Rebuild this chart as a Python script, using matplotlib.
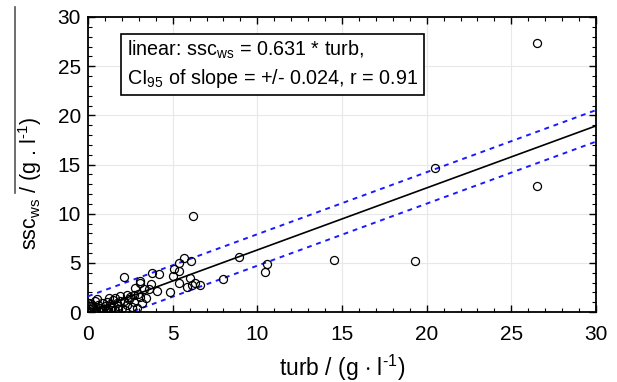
import matplotlib
matplotlib.use("Agg")
import matplotlib.pyplot as plt
import numpy as np
from matplotlib.lines import Line2D
from matplotlib.ticker import MultipleLocator

plt.rcParams['font.family'] = ['Liberation Sans', 'DejaVu Sans']
plt.rcParams['mathtext.fontset'] = 'custom'
plt.rcParams['mathtext.rm'] = 'Liberation Sans'
plt.rcParams['mathtext.it'] = 'Liberation Sans:italic'

# measured points (turb, ssc_ws), g/l
turb = [26.5, 26.5, 20.5, 19.3, 14.5, 10.6, 10.45, 8.9, 8.0, 6.2,
        5.65, 6.1, 5.4, 5.05, 5.35, 5.0, 6.0, 5.4, 6.15, 5.85,
        6.6, 6.3, 4.85, 4.2, 3.8, 2.1, 3.05, 3.1, 3.75, 2.8,
        3.6, 4.1, 2.95, 3.45, 2.3, 1.9, 1.6, 2.1, 2.7, 3.3,
        2.5, 3.05, 2.7,
        0.1, 0.2, 0.3, 0.4, 0.5, 0.6, 0.7, 0.8, 0.9, 1.0,
        1.1, 1.2, 1.3, 1.4, 1.5, 1.6, 1.7, 1.8, 1.9, 2.0,
        2.2, 2.4, 0.15, 0.35, 0.55, 0.75, 1.05, 1.25, 0.05, 2.6,
        0.25, 0.45, 0.85, 1.15, 1.35, 1.75, 2.3, 2.9, 3.2]
ssc_ws = [27.4, 12.8, 14.6, 5.2, 5.25, 4.9, 4.1, 5.6, 3.35, 9.8,
          5.5, 5.15, 5.0, 4.35, 4.2, 3.65, 3.45, 3.0, 2.75, 2.5,
          2.7, 2.9, 2.0, 3.85, 4.0, 3.55, 3.15, 3.0, 2.8, 2.4,
          2.3, 2.15, 1.8, 1.4, 1.75, 1.65, 1.4, 1.15, 1.05, 2.3,
          1.55, 1.55, 1.75,
          0.3, 0.8, 0.5, 1.1, 0.2, 0.7, 0.4, 0.9, 0.1, 0.6,
          1.0, 0.3, 0.8, 0.5, 1.2, 0.2, 0.9, 0.6, 1.1, 0.4,
          0.2, 1.3, 0.05, 0.15, 1.3, 0.0, 0.35, 1.4, 0.9, 0.5,
          0.6, 0.1, 0.3, 0.15, 0.2, 0.3, 0.7, 0.4, 0.9]

slope = 0.631
band = 1.6  # half width of the dashed band, g/l
fit_x = [0, 30]

fig = plt.figure(figsize=(6.17, 3.82), dpi=100)
ax = fig.add_axes([0.1426, 0.1832, 0.966 - 0.1426, 0.9555 - 0.1832])

fx = np.array(fit_x, dtype=float)
ax.plot(fx, slope * fx, color='black', lw=1.2, zorder=3)
ax.plot(fx, slope * fx + band, color='#1a1aff', lw=1.4, ls=(0, (2.5, 2.5)), zorder=3)
ax.plot(fx, slope * fx - band, color='#1a1aff', lw=1.4, ls=(0, (2.5, 2.5)), zorder=3)
ax.plot(turb, ssc_ws, 'o', mfc='none', mec='black', ms=5.8, mew=0.9, zorder=4)

ax.set_xlim(0, 30)
ax.set_ylim(0, 30)
ax.xaxis.set_major_locator(MultipleLocator(5))
ax.yaxis.set_major_locator(MultipleLocator(5))
ax.xaxis.set_minor_locator(MultipleLocator(1))
ax.yaxis.set_minor_locator(MultipleLocator(1))
ax.tick_params(which='both', direction='in', top=True, right=True, labelsize=15)
ax.tick_params(axis='x', pad=9)
ax.tick_params(axis='y', pad=5)
ax.tick_params(which='major', length=5, width=1)
ax.tick_params(which='minor', length=3, width=0.8)
ax.grid(True, color='#e8e8e8', lw=0.8)
ax.set_axisbelow(True)
for s in ax.spines.values():
    s.set_linewidth(1.3)

ax.set_xlabel(r'turb / (g $\cdot$ l$^{\text{-1}}$)', fontsize=16.5, labelpad=7)
ax.set_ylabel(r'ssc$_\mathrm{ws}$ / (g . l$^{\text{-1}}$)', fontsize=15.5)
ax.yaxis.set_label_coords(-0.087, 0.435)

ax.text(0.077, 0.925,
        'linear: ssc$_\\mathrm{ws}$ = 0.631 * turb,\nCI$_\\mathrm{95}$ of slope = +/- 0.024, r = 0.91',
        transform=ax.transAxes, ha='left', va='top', fontsize=14.2, linespacing=1.3,
        bbox=dict(boxstyle='square,pad=0.3', fc='white', ec='black', lw=1.2), zorder=5)

# stray overline next to the y label
fig.add_artist(Line2D([15 / 617, 15 / 617], [1 - 7 / 382, 1 - 193 / 382],
                      color='#555555', lw=1.2))

fig.savefig('out.png', dpi=100)
